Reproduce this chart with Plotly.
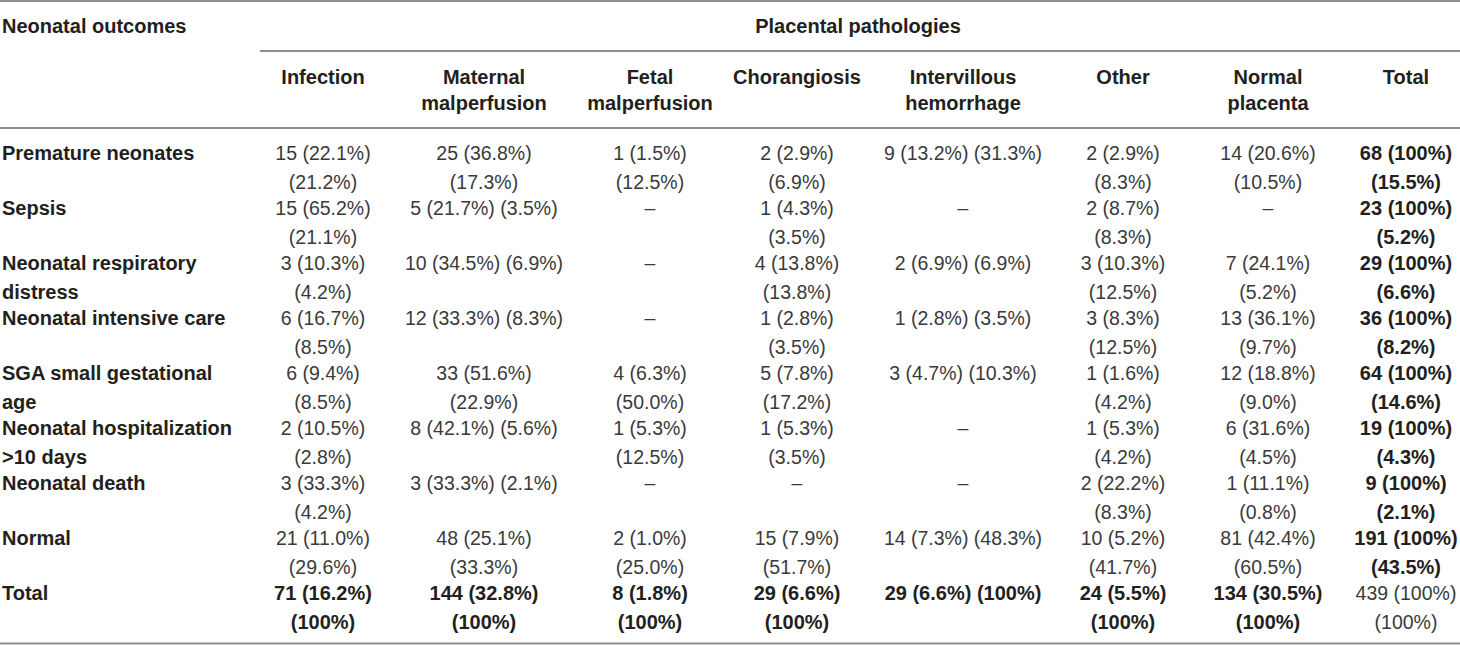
import plotly.graph_objects as go

# table content ("<br>" = where the cell wraps)
outcomes = [
    "Premature neonates", "Sepsis", "Neonatal respiratory<br>distress",
    "Neonatal intensive care", "SGA small gestational<br>age",
    "Neonatal hospitalization<br>>10 days", "Neonatal death", "Normal", "Total",
]
pathologies = [
    "Infection", "Maternal<br>malperfusion", "Fetal<br>malperfusion", "Chorangiosis",
    "Intervillous<br>hemorrhage", "Other", "Normal<br>placenta", "Total",
]
infection = [
    "15 (22.1%)<br>(21.2%)", "15 (65.2%)<br>(21.1%)", "3 (10.3%)<br>(4.2%)",
    "6 (16.7%)<br>(8.5%)", "6 (9.4%)<br>(8.5%)", "2 (10.5%)<br>(2.8%)",
    "3 (33.3%)<br>(4.2%)", "21 (11.0%)<br>(29.6%)", "71 (16.2%)<br>(100%)",
]
maternal = [
    "25 (36.8%)<br>(17.3%)", "5 (21.7%) (3.5%)", "10 (34.5%) (6.9%)",
    "12 (33.3%) (8.3%)", "33 (51.6%)<br>(22.9%)", "8 (42.1%) (5.6%)",
    "3 (33.3%) (2.1%)", "48 (25.1%)<br>(33.3%)", "144 (32.8%)<br>(100%)",
]
fetal = [
    "1 (1.5%)<br>(12.5%)", "–", "–", "–", "4 (6.3%)<br>(50.0%)",
    "1 (5.3%)<br>(12.5%)", "–", "2 (1.0%)<br>(25.0%)", "8 (1.8%)<br>(100%)",
]
chorangiosis = [
    "2 (2.9%)<br>(6.9%)", "1 (4.3%)<br>(3.5%)", "4 (13.8%)<br>(13.8%)",
    "1 (2.8%)<br>(3.5%)", "5 (7.8%)<br>(17.2%)", "1 (5.3%)<br>(3.5%)",
    "–", "15 (7.9%)<br>(51.7%)", "29 (6.6%)<br>(100%)",
]
intervillous = [
    "9 (13.2%) (31.3%)", "–", "2 (6.9%) (6.9%)", "1 (2.8%) (3.5%)",
    "3 (4.7%) (10.3%)", "–", "–", "14 (7.3%) (48.3%)", "29 (6.6%) (100%)",
]
other = [
    "2 (2.9%)<br>(8.3%)", "2 (8.7%)<br>(8.3%)", "3 (10.3%)<br>(12.5%)",
    "3 (8.3%)<br>(12.5%)", "1 (1.6%)<br>(4.2%)", "1 (5.3%)<br>(4.2%)",
    "2 (22.2%)<br>(8.3%)", "10 (5.2%)<br>(41.7%)", "24 (5.5%)<br>(100%)",
]
normal_placenta = [
    "14 (20.6%)<br>(10.5%)", "–", "7 (24.1%)<br>(5.2%)", "13 (36.1%)<br>(9.7%)",
    "12 (18.8%)<br>(9.0%)", "6 (31.6%)<br>(4.5%)", "1 (11.1%)<br>(0.8%)",
    "81 (42.4%)<br>(60.5%)", "134 (30.5%)<br>(100%)",
]
total = [
    "68 (100%)<br>(15.5%)", "23 (100%)<br>(5.2%)", "29 (100%)<br>(6.6%)",
    "36 (100%)<br>(8.2%)", "64 (100%)<br>(14.6%)", "19 (100%)<br>(4.3%)",
    "9 (100%)<br>(2.1%)", "191 (100%)<br>(43.5%)", "439 (100%)<br>(100%)",
]
columns = [infection, maternal, fetal, chorangiosis, intervillous, other, normal_placenta, total]

# layout of the table (pixels)
W, H = 1460, 645
col_x = [323, 484, 650, 797, 963, 1123, 1268, 1406]
label_x = 2
title_x = 858
title_y = 28
head_y = 79
head_step = 26
body_y = 155
row_step = 55
line_step = 28.8
rules = [(0, W, 1), (260, W, 51), (0, W, 128), (0, W, 643.5)]
ink = "#231f20"
font = "Liberation Sans"

reg = {"x": [], "y": [], "t": []}
bold = {"x": [], "y": [], "t": []}
left = {"x": [], "y": [], "t": []}


def put(store, x, y, text, step):
    for k, line in enumerate(text.split("<br>")):
        store["x"].append(x)
        store["y"].append(y + k * step)
        store["t"].append(line)


put(left, label_x, title_y, "Neonatal outcomes", head_step)
put(bold, title_x, title_y, "Placental pathologies", head_step)
for j, name in enumerate(pathologies):
    put(bold, col_x[j], head_y, name, head_step)
for i, name in enumerate(outcomes):
    y = body_y + i * row_step
    put(left, label_x, y, name, line_step)
    for j, col in enumerate(columns):
        last_row = i == len(outcomes) - 1
        last_col = j == len(columns) - 1
        store = bold if (last_row != last_col) else reg
        put(store, col_x[j], y, col[i], line_step)

fig = go.Figure()
fig.add_trace(go.Scatter(x=reg["x"], y=reg["y"], text=reg["t"], mode="text",
                         textposition="middle center",
                         textfont=dict(family=font, size=19.5, color="#3a3a3a")))
fig.add_trace(go.Scatter(x=bold["x"], y=bold["y"], text=bold["t"], mode="text",
                         textposition="middle center",
                         textfont=dict(family=font, size=20, color=ink, weight="bold")))
fig.add_trace(go.Scatter(x=left["x"], y=left["y"], text=left["t"], mode="text",
                         textposition="middle right",
                         textfont=dict(family=font, size=20, color=ink, weight="bold")))

for x0, x1, y in rules:
    fig.add_shape(type="line", xref="x", yref="y", x0=x0, x1=x1, y0=y, y1=y,
                  line=dict(color="#8f8f8f", width=2))

fig.update_xaxes(range=[0, W], visible=False, fixedrange=True)
fig.update_yaxes(range=[H, 0], visible=False, fixedrange=True)
fig.update_layout(width=W, height=H, margin=dict(l=0, r=0, t=0, b=0),
                  plot_bgcolor="white", paper_bgcolor="white", showlegend=False)

# the page's default body margin would push the table 8px off the window
fig.write_html("out.html", config={"displayModeBar": False},
               post_script="document.body.style.margin='0';")
